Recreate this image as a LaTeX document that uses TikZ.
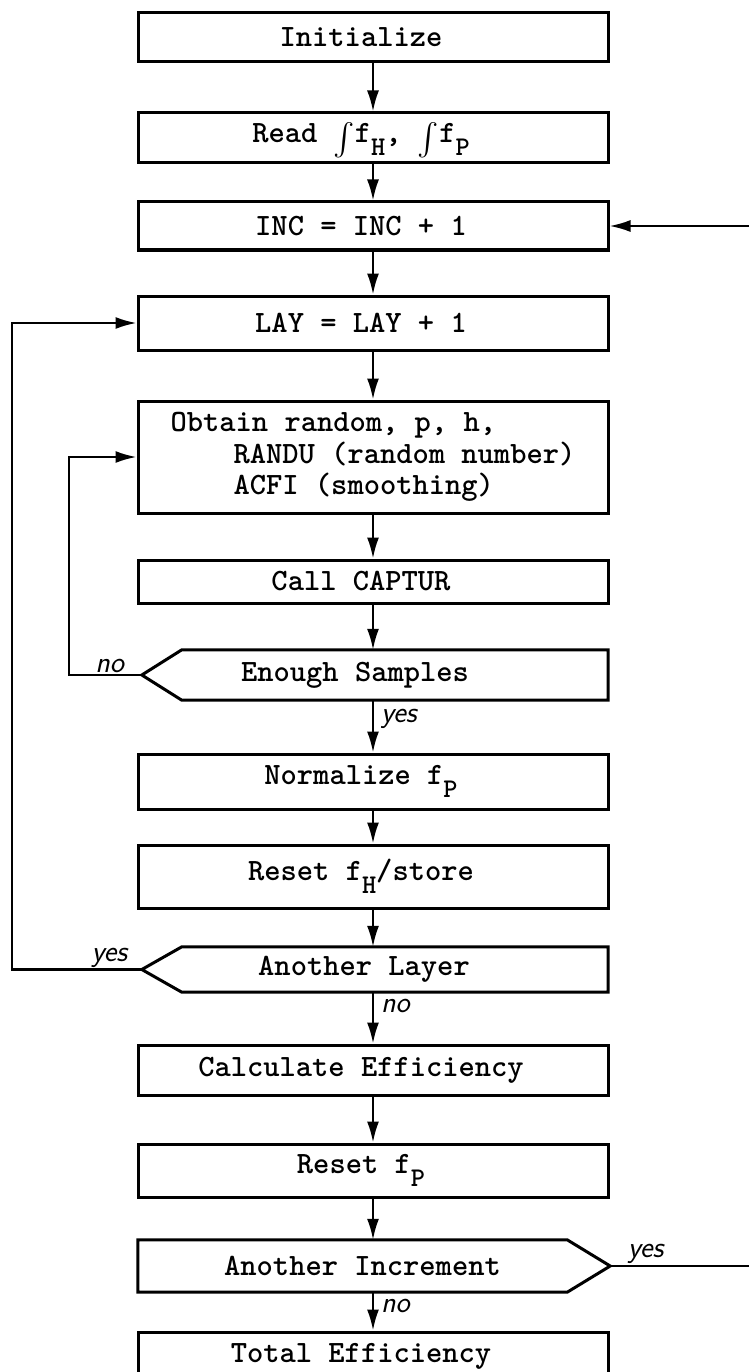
\documentclass[tikz,border=0pt]{standalone}
\usetikzlibrary{arrows.meta}
\newcommand{\boxfont}{\fontsize{31}{31.5}\selectfont\ttfamily\bfseries}
\newcommand{\handfont}{\fontsize{30}{30}\selectfont\sffamily\itshape}
\newcommand{\lowsub}[1]{\raisebox{-13pt}{\fontsize{27}{27}\selectfont #1}}
\newcommand{\tallint}{\raisebox{-5pt}{\scalebox{3.2}{\fontsize{10}{10}\selectfont$\int$}}}

\begin{document}
\begin{tikzpicture}[x=1pt,y=-1pt,box/.style={draw, line width=3pt, minimum width=470pt, inner sep=0pt},choice/.style={minimum width=426pt, inner sep=0pt},txt/.style={font=\boxfont, inner sep=0pt, xshift=-12pt},flow/.style={line width=2.2pt, -{Latex[length=21pt,width=12pt]}},answer/.style={font=\handfont, inner sep=1pt}]
\useasboundingbox[fill=white] (0,0) rectangle (748,1372);
% main column of steps
\node[box, minimum height=49pt, label={[txt]center:Initialize}] (init) at (373,37.5) {};
\node[box, minimum height=50pt, label={[txt, yshift=-2pt]center:{Read \tallint f\lowsub{H}, \tallint f\lowsub{P}}}] (read) at (373,138) {};
\node[box, minimum height=48pt, label={[txt]center:{INC = INC + 1}}] (inc) at (373,226) {};
\node[box, minimum height=54pt, label={[txt]center:{LAY = LAY + 1}}] (lay) at (373,323) {};
\node[box, minimum height=112pt, font=\boxfont, align=left] (obtain) at (373,457) {Obtain random, p, h,\\\hspace*{63pt}RANDU (random number)\\\hspace*{63pt}ACFI (smoothing)};
\node[box, minimum height=43pt, label={[txt]center:Call CAPTUR}] (call) at (373,581.5) {};
\node[choice, minimum height=50pt, label={[txt, xshift=-28pt]center:Enough Samples}] (enough) at (395,675) {};
\node[box, minimum height=55pt, label={[txt]center:{Normalize f\lowsub{P}}}] (normal) at (373,781.5) {};
\node[box, minimum height=63pt, label={[txt]center:{Reset f\lowsub{H}/store}}] (resetH) at (373,876.5) {};
\node[choice, minimum height=45pt, label={[txt, xshift=-19pt]center:Another Layer}] (layer) at (395,969.5) {};
\node[box, minimum height=50pt, label={[txt]center:Calculate Efficiency}] (calc) at (373,1070) {};
\node[box, minimum height=53pt, label={[txt]center:{Reset f\lowsub{P}}}] (resetP) at (373,1170.5) {};
\node[choice, minimum width=429pt, minimum height=52pt, label={[txt, xshift=22pt]center:Another Increment}] (incr) at (352.5,1266) {};
\node[box, minimum height=48pt, label={[txt]center:Total Efficiency}] (total) at (373,1356) {};
% pointed decision outlines
\draw[line width=3pt, line join=miter] (enough.north east) -- (enough.north west) -- ([xshift=-40pt]enough.west) coordinate (enoughTip) -- (enough.south west) -- (enough.south east) -- cycle;
\draw[line width=3pt, line join=miter] (layer.north east) -- (layer.north west) -- ([xshift=-40pt]layer.west) coordinate (layerTip) -- (layer.south west) -- (layer.south east) -- cycle;
\draw[line width=3pt, line join=miter] (incr.north west) -- (incr.north east) -- ([xshift=43pt]incr.east) coordinate (incrTip) -- (incr.south east) -- (incr.south west) -- cycle;
% straight flow
\draw[flow] (init) -- (read);
\draw[flow] (read) -- (inc);
\draw[flow] (inc) -- (lay);
\draw[flow] (lay) -- (obtain);
\draw[flow] (obtain) -- (call);
\draw[flow] (call.south) -- (call.south |- enough.north);
\draw[flow] (normal.north |- enough.south) -- (normal.north) node[answer, pos=0.35, right=6pt] (yesSamples) {yes};
\draw[flow] (normal) -- (resetH);
\draw[flow] (resetH.south) -- (resetH.south |- layer.north);
\draw[flow] (calc.north |- layer.south) -- (calc.north) node[answer, pos=0.26, right=6pt] (noLayer) {no};
\draw[flow] (calc) -- (resetP);
\draw[flow] (resetP.south) -- (resetP.south |- incr.north);
\draw[flow] (total.north |- incr.south) -- (total.north) node[answer, pos=0.35, right=6pt] (noIncr) {no};
% loops back
\draw[flow] (enoughTip) -- ++(-73,0) node[answer, pos=0.44, above] (noSamples) {no} |- (obtain.west);
\draw[flow] (layerTip) -- ++(-130,0) node[answer, pos=0.25, above] (yesLayer) {yes} |- (lay.west);
\draw[flow] (incrTip) -- ++(142,0) node[answer, pos=0.25, above] (yesIncr) {yes} |- (inc.east);
\end{tikzpicture}
\end{document}
